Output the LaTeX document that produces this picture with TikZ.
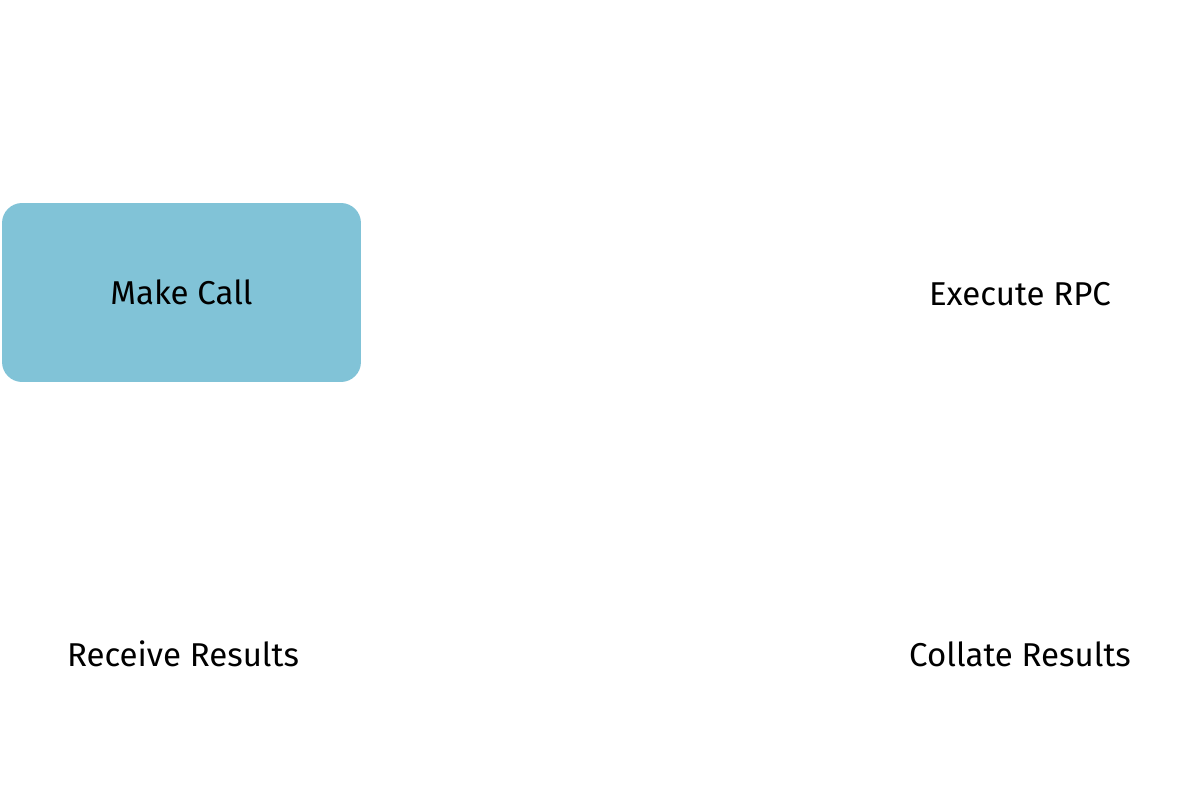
\documentclass[tikz,border=0pt]{standalone}
\usepackage{fontspec}
\setmainfont{Fira Sans}
\definecolor{callblue}{HTML}{81C3D7}

\begin{document}
\begin{tikzpicture}[x=0.02cm,y=-0.02cm]
            \useasboundingbox (0,0) rectangle (1203,810);
            \begin{scope}[every node/.style={font=\fontsize{18.8}{22}\selectfont,text=black}]
                \node[fill=callblue,rounded corners=0.4cm,minimum width=7.18cm,minimum height=3.58cm] (MakeCall) at (181.5, 292.5) {Make Call};
                \node (ExecRPC) at (1020, 294) {Execute RPC};
                \node (Receive) at (183, 654) {Receive Results};
                \node (Collate) at (1020, 654) {Collate Results};
            \end{scope}
        \end{tikzpicture}
\end{document}
